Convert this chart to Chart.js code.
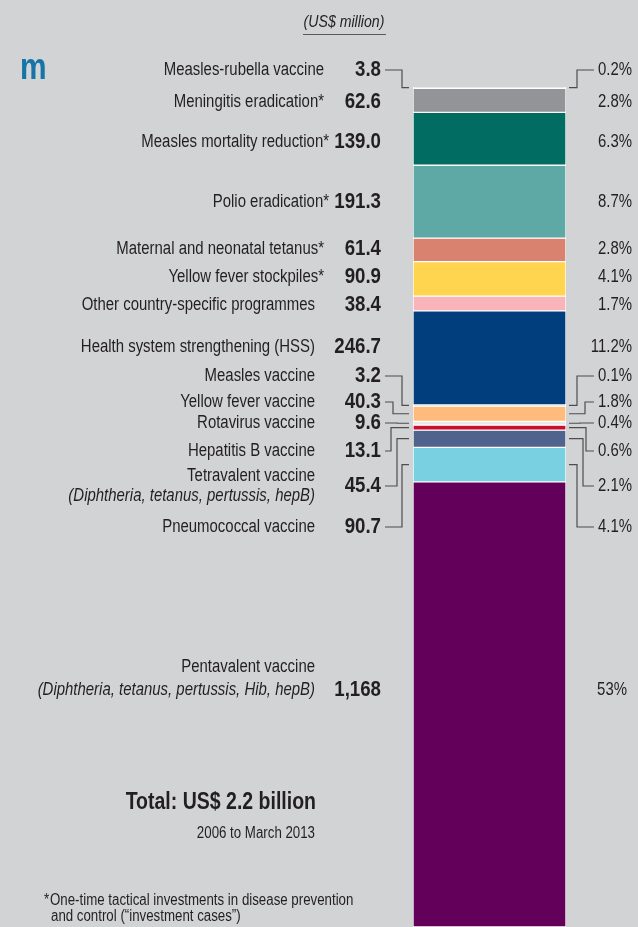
<!DOCTYPE html>
<html>
<head>
<meta charset="utf-8">
<title>Disbursements by programme</title>
<script src="https://cdn.jsdelivr.net/npm/chart.js@4.4.1/dist/chart.umd.min.js"></script>
<style>
  html, body { margin: 0; padding: 0; background: #d1d3d4; overflow: hidden; }
  #chart { display: block; }
</style>
</head>
<body>
<canvas id="chart" width="638" height="927"></canvas>
<script>
// ---- data: US$ million, 2006 to March 2013 (top of the bar first) ----
const categories = [
    'Measles-rubella vaccine',
    'Meningitis eradication*',
    'Measles mortality reduction*',
    'Polio eradication*',
    'Maternal and neonatal tetanus*',
    'Yellow fever stockpiles*',
    'Other country-specific programmes',
    'Health system strengthening (HSS)',
    'Measles vaccine',
    'Yellow fever vaccine',
    'Rotavirus vaccine',
    'Hepatitis B vaccine',
    'Tetravalent vaccine',
    'Pneumococcal vaccine',
    'Pentavalent vaccine'
];
const subNotes = ['', '', '', '', '', '', '', '', '', '', '', '',
    '(Diphtheria, tetanus, pertussis, hepB)', '',
    '(Diphtheria, tetanus, pertussis, Hib, hepB)'];
const values = [3.8, 62.6, 139.0, 191.3, 61.4, 90.9, 38.4, 246.7, 3.2, 40.3, 9.6, 13.1, 45.4, 90.7, 1168];
const shares = ['0.2%', '2.8%', '6.3%', '8.7%', '2.8%', '4.1%', '1.7%', '11.2%',
    '0.1%', '1.8%', '0.4%', '0.6%', '2.1%', '4.1%', '53%'];

// ---- styles and label layout ----
const colors = ['#ececec', '#929497', '#006c62', '#5ea8a6', '#d9826f', '#ffd44f', '#f8b4b9', '#003e7e',
    '#ececec', '#ffbb7b', '#e9e9ea', '#c8102e', '#50638c', '#79d0e1', '#63005a'];
const labelY = [70, 102, 142, 202, 249, 277, 305, 347, 376, 402, 423, 451, 486, 527, 690];
const nameRight = [324, 324, 329, 329, 324, 324, 315, 315, 315, 315, 315, 315, 315, 315, 315];
const pctRight = [632, 632, 632, 632, 632, 632, 632, 632, 632, 632, 632, 632, 632, 632, 627];
const elbowLeft = [402, null, null, null, null, null, null, null, 402, 393, 397, 391, 397, 402, null];
const elbowRight = [577, null, null, null, null, null, null, null, 577, 585, 580, 586, 583, 577, null];
const twoLine = { 12: [-10, 10], 14: [-23, 0] };

const INK = '#231f20';
const LEADER = '#4d4d4f';
const SX = 0.83; // squeeze text to look like the condensed face of the original
const FONT = '"Liberation Sans", Arial, sans-serif';
const VALUE_RIGHT = 381;

const total = values.reduce((a, b) => a + b, 0);

function fmtValue(v) {
    return v >= 1000 ? v.toLocaleString('en-US') : v.toFixed(1);
}

function text(ctx, s, x, y, size, opts = {}) {
    const { weight = 'normal', style = 'normal', align = 'right', color = INK } = opts;
    ctx.save();
    ctx.font = `${style} ${weight} ${size}px ${FONT}`;
    ctx.fillStyle = color;
    ctx.textAlign = align;
    ctx.textBaseline = 'middle';
    ctx.translate(x, y);
    ctx.scale(SX, 1);
    ctx.fillText(s, 0, 0);
    const w = ctx.measureText(s).width * SX;
    ctx.restore();
    return w;
}

function polyline(ctx, pts) {
    ctx.beginPath();
    pts.forEach(([x, y], i) => (i ? ctx.lineTo(x, y) : ctx.moveTo(x, y)));
    ctx.stroke();
}

const labelPlugin = {
    id: 'sideLabels',
    afterDraw(chart) {
        const ctx = chart.ctx;
        const area = chart.chartArea;

        // header
        text(ctx, '(US$ million)', 344, 22, 17, { style: 'italic', align: 'center' });
        ctx.save();
        ctx.strokeStyle = '#58595b';
        ctx.lineWidth = 1;
        polyline(ctx, [[303, 34.5], [386, 34.5]]);
        ctx.restore();

        // last letter of the page title, cut off at the left edge
        text(ctx, 'm', 20, 69, 36, { weight: 'bold', align: 'left', color: '#1574a8' });

        ctx.save();
        ctx.strokeStyle = LEADER;
        ctx.lineWidth = 1.2;

        categories.forEach((name, i) => {
            const y = labelY[i];
            if (subNotes[i]) {
                const [d1, d2] = twoLine[i];
                text(ctx, name, nameRight[i], y + d1, 18);
                text(ctx, subNotes[i], nameRight[i], y + d2, 18, { style: 'italic' });
            } else {
                text(ctx, name, nameRight[i], y, 18);
            }
            text(ctx, fmtValue(values[i]), VALUE_RIGHT, y, 22.5, { weight: 'bold' });
            const w = text(ctx, shares[i], pctRight[i], y, 18);

            const el = chart.getDatasetMeta(i).data[0];
            const cy = (el.y + el.base) / 2;
            if (elbowLeft[i] !== null) {
                polyline(ctx, [[VALUE_RIGHT + 4, y], [elbowLeft[i], y], [elbowLeft[i], cy], [area.left - 4, cy]]);
            }
            if (elbowRight[i] !== null) {
                polyline(ctx, [[area.right + 3, cy], [elbowRight[i], cy], [elbowRight[i], y], [pctRight[i] - w - 4, y]]);
            }
        });
        ctx.restore();

        // total and footnote
        text(ctx, 'Total: US$ 2.2 billion', 316, 803, 23.5, { weight: 'bold' });
        text(ctx, '2006 to March 2013', 315, 834, 16);
        text(ctx, '*', 44, 901, 16, { align: 'left' });
        text(ctx, 'One-time tactical investments in disease prevention', 50, 901, 16, { align: 'left' });
        text(ctx, 'and control (\u201Cinvestment cases\u201D)', 51, 917, 16, { align: 'left' });
    }
};

const chart = new Chart(document.getElementById('chart'), {
    type: 'bar',
    data: {
        labels: ['Total'],
        datasets: categories.map((name, i) => ({
            label: name,
            data: [values[i]],
            backgroundColor: colors[i],
            borderColor: '#ffffff',
            borderWidth: 1,
            borderSkipped: false,
            barPercentage: 1,
            categoryPercentage: 1
        }))
    },
    options: {
        responsive: false,
        animation: false,
        events: [],
        layout: { padding: { left: 413, right: 72, top: 87, bottom: 0 } },
        scales: {
            x: { stacked: true, display: false },
            y: { stacked: true, display: false, reverse: true, min: 0, max: total }
        },
        plugins: {
            legend: { display: false },
            tooltip: { enabled: false }
        }
    },
    plugins: [labelPlugin]
});
</script>
</body>
</html>
